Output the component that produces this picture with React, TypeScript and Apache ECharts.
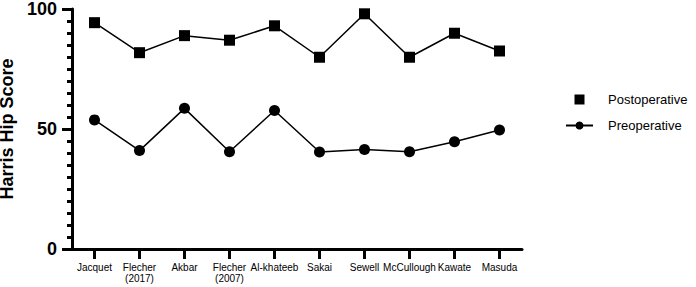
import React, { useEffect, useRef } from "react";
import * as echarts from "echarts";

const categories = [
  "Jacquet",
  "Flecher\n(2017)",
  "Akbar",
  "Flecher\n(2007)",
  "Al-khateeb",
  "Sakai",
  "Sewell",
  "McCullough",
  "Kawate",
  "Masuda",
];
const postoperative = [94.3, 81.8, 88.9, 87, 93, 79.9, 98, 79.9, 89.9, 82.5];
const preoperative = [53.8, 41, 58.6, 40.5, 57.7, 40.4, 41.5, 40.5, 44.7, 49.6];
const yTicks = { min: 0, max: 100, interval: 50 };

export default function App() {
  const ref = useRef<HTMLDivElement>(null);
  useEffect(() => {
    if (!ref.current) return;
    const chart = echarts.init(ref.current, null, { renderer: "svg" });
    const font = "Liberation Sans, Arial, sans-serif";
    chart.setOption({
      animation: false,
      grid: {
        left: 72,
        top: 9,
        width: 450,
        height: 240,
        containLabel: false,
        outerBoundsMode: "none",
      },
      legend: {
        orient: "vertical",
        left: 560,
        top: 88,
        itemWidth: 27,
        itemHeight: 10,
        itemGap: 13,
        textStyle: { fontFamily: font, fontSize: 13, color: "#000", padding: [0, 0, 0, 10] },
        data: [
          { name: "Postoperative", icon: "path://M0,0H10V10H0Z", itemStyle: { color: "#000" } },
          { name: "Preoperative" },
        ],
      },
      xAxis: {
        type: "category",
        data: categories,
        boundaryGap: true,
        axisLine: { show: true, lineStyle: { color: "#000", width: 3 } },
        axisTick: { show: true, alignWithLabel: true, length: 10, lineStyle: { color: "#000", width: 3 } },
        axisLabel: {
          color: "#000",
          fontFamily: font,
          fontSize: 10,
          margin: 13,
          interval: 0,
          lineHeight: 11,
        },
      },
      yAxis: {
        type: "value",
        min: yTicks.min,
        max: yTicks.max,
        interval: yTicks.interval,
        name: "Harris Hip Score",
        nameLocation: "middle",
        nameGap: 43,
        nameTextStyle: { fontFamily: font, fontSize: 18, fontWeight: "bold", color: "#000" },
        axisLine: { show: true, lineStyle: { color: "#000", width: 3 } },
        axisTick: { show: true, length: 10, lineStyle: { color: "#000", width: 3 } },
        minorTick: { show: true, splitNumber: 10, length: 5, lineStyle: { color: "#000", width: 3 } },
        splitLine: { show: false },
        axisLabel: {
          color: "#000",
          fontFamily: font,
          fontSize: 18,
          fontWeight: "bold",
          margin: 15,
        },
      },
      series: [
        {
          name: "Postoperative",
          type: "line",
          data: postoperative,
          symbol: "rect",
          symbolSize: 11,
          itemStyle: { color: "#000" },
          lineStyle: { color: "#000", width: 1.5 },
        },
        {
          name: "Preoperative",
          type: "line",
          data: preoperative,
          symbol: "circle",
          symbolSize: 11,
          itemStyle: { color: "#000" },
          lineStyle: { color: "#000", width: 1.5 },
        },
      ],
    });
    return () => chart.dispose();
  }, []);
  return (
    <div
      ref={ref}
      style={{ position: "fixed", left: 0, top: 0, width: 696, height: 287, background: "#fff" }}
    />
  );
}
